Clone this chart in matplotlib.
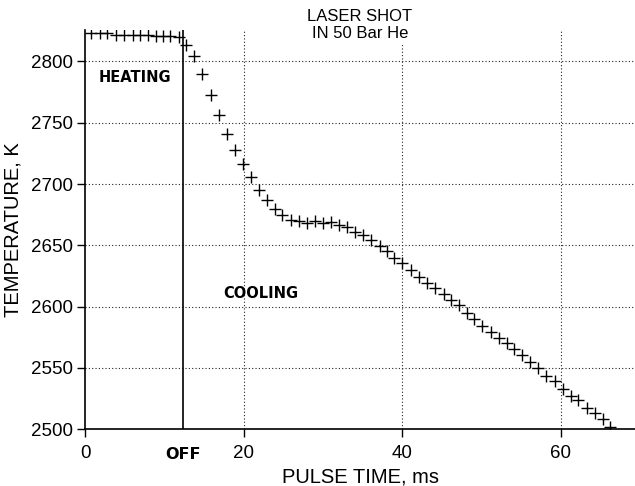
import matplotlib
matplotlib.use("Agg")
import matplotlib.pyplot as plt
from matplotlib.transforms import blended_transform_factory

plt.rcParams["font.family"] = ["Liberation Sans", "DejaVu Sans"]

# Laser heating phase (ms, K)
heat_time = [0.8, 1.9, 2.8, 3.9, 4.9, 6.0, 6.9, 7.9, 8.9, 9.9, 10.7, 11.9]
heat_temp = [2823, 2823, 2823, 2822, 2822, 2822, 2822, 2822, 2821, 2821, 2821, 2820]

# Free cooling after the laser is switched off (ms, K)
cool_time = [12.7, 13.8, 14.8, 15.85, 16.9, 17.9, 18.9, 19.9, 20.9, 21.95,
             22.95, 23.95, 24.9, 25.95, 27.0, 28.0, 29.0, 30.05, 31.1, 32.0,
             33.05, 34.1, 35.1, 36.15, 37.2, 38.15, 39.0, 40.0, 41.1, 42.15,
             43.2, 44.2, 45.25, 46.2, 47.15, 48.2, 49.1, 50.15, 51.2, 52.25,
             53.3, 54.1, 55.2, 56.1, 57.2, 58.2, 59.3, 60.3, 61.3, 62.2,
             63.3, 64.3, 65.4, 66.3]
cool_temp = [2813.5, 2804.5, 2790, 2773, 2756.5, 2741, 2728, 2716, 2706, 2695,
             2687, 2679.5, 2675, 2671, 2670, 2668.5, 2670, 2668, 2669, 2666.5,
             2665, 2661, 2658.5, 2654.5, 2649.5, 2645.5, 2640, 2635.5, 2630, 2624.5,
             2619.5, 2615, 2610.5, 2605.5, 2601.5, 2595, 2590, 2584.5, 2579.5, 2574.5,
             2570, 2565.5, 2560.5, 2555, 2550, 2543.5, 2539.5, 2532.5, 2527.5, 2524,
             2517, 2513, 2508, 2502]

laser_off = 12.4
x_ticks = [0, 20, 40, 60]
y_ticks = [2500, 2550, 2600, 2650, 2700, 2750, 2800]

W, H = 635, 486
fig = plt.figure(figsize=(W / 100, H / 100), dpi=100)
ax = fig.add_axes([85 / W, 1 - 429.3 / H, 1 - 85 / W, (429.3 - 29.6) / H])

ax.set_xlim(0, 69.4)
ax.set_ylim(2500, 2826)

# dotted grid
for xv in x_ticks[1:]:
    ax.axvline(xv, color="#222222", lw=0.8, ls=(0, (1, 2)), zorder=1)
for yv in y_ticks[1:]:
    ax.axhline(yv, color="#222222", lw=0.8, ls=(0, (1, 2)), zorder=1)

ax.axvline(laser_off, color="black", lw=1.2, zorder=2)

ax.plot(heat_time, heat_temp, ls="none", marker="+", ms=8.5, mew=1.0,
        color="black", zorder=3)
ax.plot(cool_time, cool_temp, ls="none", marker="+", ms=8.5, mew=1.0,
        color="black", zorder=3)

for side in ("top", "right"):
    ax.spines[side].set_visible(False)
for side in ("left", "bottom"):
    ax.spines[side].set_linewidth(1.2)

ax.set_xticks(x_ticks)
ax.set_yticks(y_ticks)
ax.tick_params(axis="both", direction="out", length=6, width=1.0,
               labelsize=13.5, colors="black")
ax.tick_params(axis="x", pad=5)
ax.tick_params(axis="y", pad=3)

trans = blended_transform_factory(ax.transData, ax.transAxes)
ax.annotate("OFF", xy=(laser_off, 0), xycoords=trans, xytext=(0, -12.5),
            textcoords="offset points", ha="center", va="top",
            fontsize=11.5, fontweight="bold", family=["DejaVu Sans"])

ax.text(6.3, 2787, "HEATING", ha="center", va="center", fontsize=10.5,
        fontweight="bold", family=["DejaVu Sans"])
ax.text(22.2, 2611, "COOLING", ha="center", va="center", fontsize=10.5,
        fontweight="bold", family=["DejaVu Sans"])

ax.set_xlabel("PULSE TIME, ms", fontsize=14.5, labelpad=4)
ax.set_ylabel("TEMPERATURE, K", fontsize=14.5, labelpad=6)

fig.text(360 / W, 1 - 25 / H, "LASER SHOT\nIN 50 Bar He", ha="center",
         va="center", fontsize=12, linespacing=1.1,
         bbox=dict(facecolor="white", edgecolor="none", pad=2))

fig.savefig("out.png", dpi=100)
